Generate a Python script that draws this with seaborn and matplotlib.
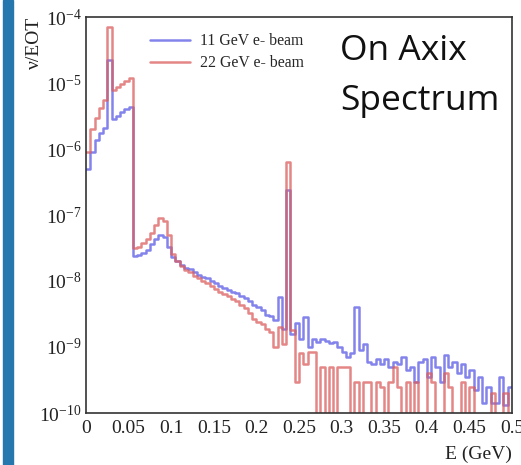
import numpy as np
import pandas as pd
import matplotlib
matplotlib.use("Agg")
import matplotlib.pyplot as plt
import matplotlib.ticker as mticker
from matplotlib.lines import Line2D
from matplotlib.patches import Rectangle
import seaborn as sns

# --- Data: on-axis neutrino spectrum per electron on target, 0.005 GeV bins from 0 to 0.5 GeV ---
e_min, e_max = 0.0, 0.5

flux_11gev = [
    5e-7, 9e-7, 1.35e-6, 1.75e-6, 2.1e-6, 2.2e-5, 2.8e-6, 3.2e-6, 3.6e-6, 4.0e-6,
    4.4e-6, 2.4e-8, 2.5e-8, 2.7e-8, 3.0e-8, 3.6e-8, 4.3e-8, 5.0e-8, 4.6e-8, 3.3e-8,
    2.3e-8, 2.0e-8, 1.75e-8, 1.6e-8, 1.5e-8, 1.35e-8, 1.25e-8, 1.15e-8, 1.1e-8, 1.0e-8,
    9.3e-9, 8.3e-9, 7.8e-9, 7.3e-9, 6.8e-9, 6.5e-9, 5.9e-9, 5.6e-9, 5.0e-9, 4.4e-9,
    4.1e-9, 3.6e-9, 3.1e-9, 2.9e-9, 2.6e-9, 5.8e-9, 1.9e-9, 2.4e-7, 1.6e-9, 2.3e-9,
    1.3e-9, 2.8e-9, 1.0e-9, 1.3e-9, 1.2e-9, 1.3e-9, 1.25e-9, 1.15e-9, 1.2e-9, 1.0e-9,
    8.5e-10, 7e-10, 8e-10, 4.1e-9, 9e-10, 1.1e-9, 6e-10, 5.5e-10, 6.5e-10, 5.5e-10,
    6.5e-10, 5e-10, 6e-10, 5.5e-10, 7e-10, 4.5e-10, 5e-10, 3e-10, 6e-10, 6.5e-10,
    3.5e-10, 7e-10, 5e-10, 3e-10, 7.5e-10, 5e-10, 6e-10, 4e-10, 5.5e-10, 3.5e-10,
    4.5e-10, 2.2e-10, 3.5e-10, 1.4e-10, 2.5e-10, 1.4e-10, 1.4e-10, 3.5e-10, 1.3e-10, 2.5e-10,
]

flux_22gev = [
    9e-7, 2.0e-6, 3.0e-6, 4.2e-6, 5.5e-6, 7.0e-5, 7.8e-6, 8.8e-6, 9.8e-6, 1.08e-5,
    1.18e-5, 3.2e-8, 3.3e-8, 3.8e-8, 4.4e-8, 5.4e-8, 7.0e-8, 8.9e-8, 8.0e-8, 5.0e-8,
    2.6e-8, 2.0e-8, 1.7e-8, 1.45e-8, 1.35e-8, 1.2e-8, 1.1e-8, 1.0e-8, 9.3e-9, 8.3e-9,
    7.5e-9, 6.8e-9, 6.3e-9, 5.9e-9, 5.4e-9, 5.0e-9, 4.4e-9, 3.9e-9, 3.3e-9, 2.7e-9,
    2.4e-9, 2.2e-9, 1.9e-9, 1.7e-9, 1.0e-9, 2.0e-9, 1.1e-9, 6.4e-7, 1.8e-9, 3e-10,
    8e-10, 5.5e-10, 8.5e-10, 8.5e-10, 0, 5e-10, 0, 5e-10, 0, 5e-10,
    5e-10, 5e-10, 0, 3e-10, 0, 3e-10, 3e-10, 0, 3e-10, 2.5e-10,
    0, 3e-10, 5e-10, 2.5e-10, 0, 3e-10, 0, 3e-10, 0, 0,
    4e-10, 3e-10, 0, 0, 4e-10, 2.5e-10, 0, 0, 3e-10, 0,
    2.5e-10, 0, 0, 0, 0, 2e-10, 0, 0, 2e-10, 0,
]

beam_labels = ["11 GeV e- beam", "22 GeV e- beam"]
beam_colors = ["#5a5ae6", "#dc5e5e"]

# --- Style ---
sns.set_theme(style="white")
plt.rcParams["font.family"] = ["Liberation Serif", "DejaVu Serif"]
plt.rcParams["mathtext.fontset"] = "stix"

edges = np.linspace(e_min, e_max, len(flux_11gev) + 1)
centers = 0.5 * (edges[:-1] + edges[1:])

fig = plt.figure(figsize=(5.21, 4.65), dpi=100)
ax = fig.add_axes([86 / 521, 1 - 413 / 465, (512 - 86) / 521, (413 - 17) / 465])

# blue side strip from the slide
fig.patches.append(Rectangle((3 / 521, 0), 10 / 521, 1, transform=fig.transFigure,
                             color="#2677ae", zorder=0))

for label, flux, color in zip(beam_labels, [flux_11gev, flux_22gev], beam_colors):
    df = pd.DataFrame({"energy": centers, "flux": flux})
    sns.histplot(data=df, x="energy", weights="flux", bins=list(edges), element="step",
                 fill=False, color=color, alpha=0.75, linewidth=1.8, ax=ax)

ax.set_yscale("log")
ax.set_xlim(e_min, e_max)
ax.set_ylim(1e-10, 1e-4)

ax.xaxis.set_major_locator(mticker.MultipleLocator(0.05))
ax.xaxis.set_minor_locator(mticker.MultipleLocator(0.01))
ax.xaxis.set_major_formatter(mticker.FuncFormatter(lambda v, p: f"{v:g}"))
ax.yaxis.set_major_locator(mticker.LogLocator(base=10, numticks=10))
ax.yaxis.set_minor_locator(mticker.LogLocator(base=10, subs=np.arange(2, 10), numticks=20))
ax.yaxis.set_minor_formatter(mticker.NullFormatter())

ax.tick_params(which="both", direction="in", top=False, right=False,
               color="#777777", labelcolor="#222222", labelsize=14)
ax.tick_params(which="major", length=9, width=1)
ax.tick_params(which="minor", length=4.5, width=0.8)
ax.tick_params(axis="x", pad=5)
ax.tick_params(axis="y", pad=3)

for sp in ax.spines.values():
    sp.set_color("#333333")
    sp.set_linewidth(1.2)

ax.set_ylabel("ν/EOT", loc="top", fontsize=14, color="#222222")
ax.yaxis.set_label_coords(-0.101, 1.0)
ax.set_xlabel("E (GeV)", loc="right", fontsize=14, labelpad=6, color="#222222")

handles = [Line2D([0], [0], color=c, alpha=0.75, lw=1.8) for c in beam_colors]
fig.legend(handles, beam_labels, loc="upper left", bbox_to_anchor=(150 / 521, 1 - 33 / 465),
           frameon=False, fontsize=11.3, handlelength=2.55, handletextpad=0.65,
           labelspacing=0.4, borderpad=0, borderaxespad=0)

fig.text(340 / 521, 1 - 60 / 465, "On Axix", ha="left", va="baseline",
         fontsize=25.5, family="Open Sans", color="#111111")
fig.text(340 / 521, 1 - 110 / 465, "Spectrum", ha="left", va="baseline",
         fontsize=25.5, family="Open Sans", color="#111111")

fig.savefig("out.png", dpi=100)
